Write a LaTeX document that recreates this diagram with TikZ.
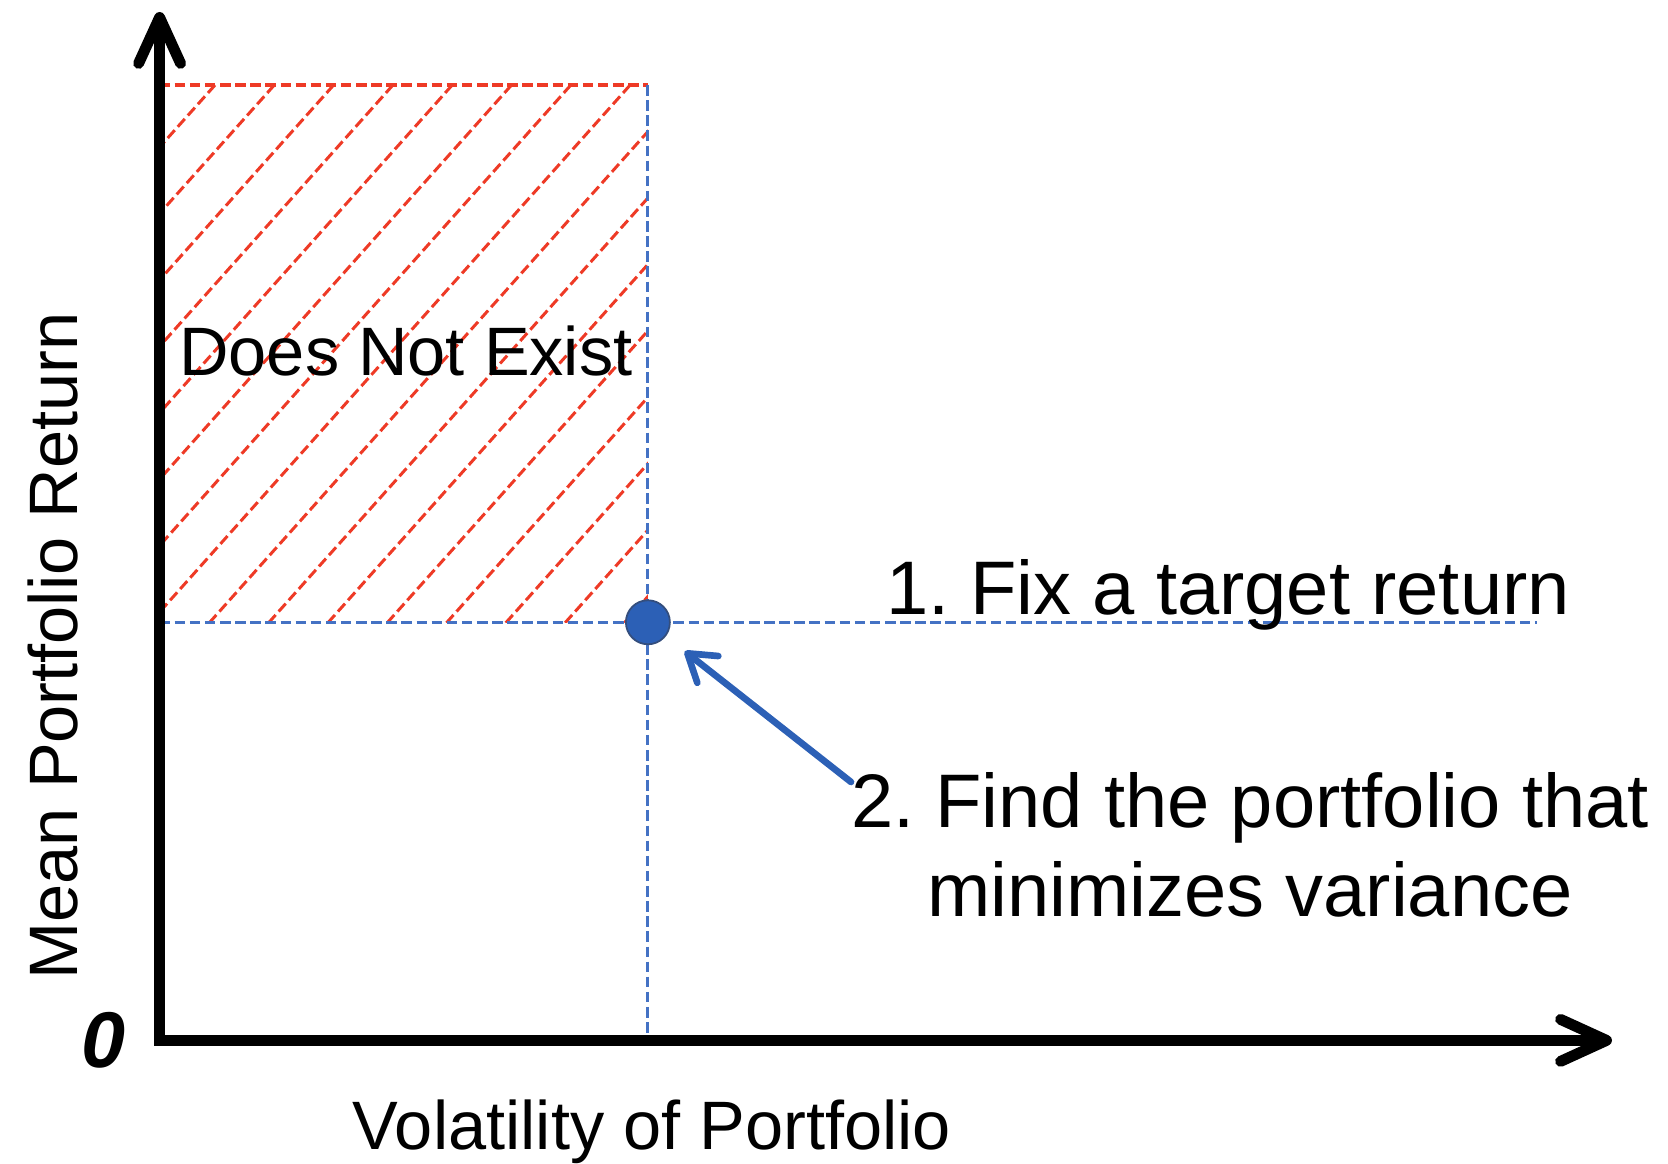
\documentclass[tikz,border=0pt]{standalone}
\usepackage{fontspec}
\setmainfont{Liberation Sans}
\usepackage{tikz}
\usetikzlibrary{arrows.meta, positioning}
\frenchspacing
\definecolor{hatchred}{RGB}{238,58,38}
\definecolor{guideblue}{RGB}{68,114,196}
\definecolor{dotblue}{RGB}{44,96,182}
\definecolor{dotrim}{RGB}{52,78,125}
\tikzstyle{axis} = [line width=3.1pt, {Straight Barb[length=4.6mm,width=4.2mm,round]}-{Straight Barb[length=4.6mm,width=4.2mm,round]}]
\tikzstyle{hatch} = [hatchred, line width=0.85pt, dash pattern=on 3pt off 1.3pt]
\tikzstyle{edge} = [hatchred, line width=0.9pt, dash pattern=on 3pt off 1.3pt]
\tikzstyle{guide} = [guideblue, line width=0.9pt, dash pattern=on 3pt off 1.3pt]
\tikzstyle{dot} = [circle, fill=dotblue, draw=dotrim, line width=0.5pt, minimum size=0.44cm, inner sep=0pt]
\tikzstyle{pointer} = [dotblue, line width=1.9pt, line cap=round, -{Straight Barb[length=2.6mm,width=3.4mm,round]}, shorten >=0.24cm]
\tikzstyle{axistext} = [font=\fontsize{19.5}{23}\selectfont, inner sep=0pt]
\tikzstyle{note} = [font=\fontsize{21.6}{25.4}\selectfont, inner sep=0pt, align=center]

\begin{document}
\begin{tikzpicture}
\useasboundingbox (0,0) rectangle (16.68,11.64);
\coordinate (origin) at (1.596,1.236);
\coordinate (ytip) at (1.596,11.52);
\coordinate (xtip) at (16.12,1.236);
\coordinate (corner) at (6.479,10.789);
\coordinate (guideend) at (15.37,5.417);
\coordinate (tail) at (8.51,3.82);

% hatched region
\begin{scope}
\clip (origin |- guideend) rectangle (corner);
\foreach \k in {0,...,15} {
  \pgfmathsetmacro{\hx}{2.15+0.593*\k}
  \draw [hatch] (\hx,10.789) -- ++(-6,-6.72);
}
\end{scope}
\draw [edge] (origin |- corner) -- (corner);
\draw [guide] (corner) -- (corner |- origin);
\draw [guide] (origin |- guideend) -- (guideend);

\draw [axis] (ytip) -- (origin) -- (xtip);

\node (pt) [dot] at (corner |- guideend) {};
\draw [pointer] (tail) -- (pt);

\node (zero) [font=\fontsize{22.5}{26}\selectfont\bfseries\itshape, inner sep=0pt] at (1.03,1.24) {0};
\node (none) [axistext, anchor=base] at (4.06,7.885) {Does Not Exist};
\node (fix) [note, anchor=base] at (12.28,5.49) {1. Fix a target return};
\node (find) [note, anchor=base] at (12.50,2.47) {2. Find the portfolio that\\minimizes variance};
\node (xlab) [axistext, anchor=base] at (6.52,0.14) {Volatility of Portfolio};
\node (ylab) [axistext, anchor=base, rotate=90] at (0.777,5.18) {Mean Portfolio Return};
\end{tikzpicture}
\end{document}
